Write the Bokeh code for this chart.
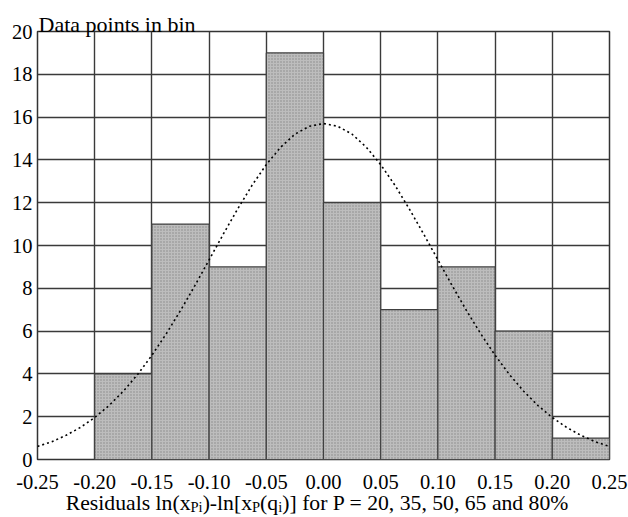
from bokeh.plotting import figure
from bokeh.models import FixedTicker, Label, LinearAxis
from bokeh.embed import file_html
from bokeh.resources import INLINE

# ---- data ----
bin_left = [-0.20, -0.15, -0.10, -0.05, 0.00, 0.05, 0.10, 0.15, 0.20]
bin_right = [-0.15, -0.10, -0.05, 0.00, 0.05, 0.10, 0.15, 0.20, 0.25]
counts = [4, 11, 9, 19, 12, 7, 9, 6, 1]

curve_x = [-0.25, -0.2375, -0.225, -0.2125, -0.2, -0.1875, -0.175, -0.1625,
           -0.15, -0.1375, -0.125, -0.1125, -0.1, -0.0875, -0.075, -0.0625,
           -0.05, -0.0375, -0.025, -0.0125, 0.0, 0.0125, 0.025, 0.0375,
           0.05, 0.0625, 0.075, 0.0875, 0.1, 0.1125, 0.125, 0.1375,
           0.15, 0.1625, 0.175, 0.1875, 0.2, 0.2125, 0.225, 0.2375, 0.25]
curve_y = [0.61, 0.83, 1.13, 1.50, 1.96, 2.52, 3.19, 3.97,
           4.87, 5.87, 6.96, 8.12, 9.33, 10.54, 11.71, 12.81,
           13.78, 14.59, 15.20, 15.57, 15.70, 15.57, 15.20, 14.59,
           13.78, 12.81, 11.71, 10.54, 9.33, 8.12, 6.96, 5.87,
           4.87, 3.97, 3.19, 2.52, 1.96, 1.50, 1.13, 0.83, 0.61]

x_ticks = [-0.25, -0.20, -0.15, -0.10, -0.05, 0.00, 0.05, 0.10, 0.15, 0.20, 0.25]
x_tick_labels = ["-0.25", "-0.20", "-0.15", "-0.10", "-0.05", "0.00",
                 "0.05", "0.10", "0.15", "0.20", "0.25"]
y_ticks = [0, 2, 4, 6, 8, 10, 12, 14, 16, 18, 20]

y_title = "Data points in  bin"
x_title_pieces = [("Residuals ln(x", False), ("Pi", True), (")-ln[x", False),
                  ("P", True), ("(q", False), ("i", True),
                  (")] for P = 20, 35, 50, 65 and 80%", False)]

FONT = "Liberation Serif"

# Times metrics (per 1000 em) used to lay the title pieces out
W = {'R': 667, 'e': 444, 's': 389, 'i': 278, 'd': 500, 'u': 500, 'a': 444,
     'l': 278, ' ': 250, 'n': 500, '(': 333, 'x': 500, ')': 333, '-': 333,
     '[': 333, ']': 333, 'q': 500, 'P': 556, 'f': 333, 'o': 500, 'r': 333,
     '=': 564, ',': 250, '%': 833}
for c in "0123456789":
    W[c] = 500


def text_width(s, size):
    return sum(W.get(c, 500) for c in s) * size / 1000.0


FIG_W, FIG_H = 628, 517
BL, BR, BT, BB = 37, 19, 31, 57
FRAME_W = FIG_W - BL - BR

p = figure(width=FIG_W, height=FIG_H, x_range=(-0.25, 0.25), y_range=(0, 20),
           output_backend="svg", toolbar_location=None,
           min_border_left=BL, min_border_right=BR,
           min_border_top=BT, min_border_bottom=BB)

p.background_fill_color = "white"
p.border_fill_color = "white"
p.outline_line_color = "#333333"
p.outline_line_width = 1.5

# grid
p.xgrid.ticker = FixedTicker(ticks=x_ticks)
p.ygrid.ticker = FixedTicker(ticks=y_ticks)
for g in (p.xgrid, p.ygrid):
    g.grid_line_color = "#3a3a3a"
    g.grid_line_width = 1.4
    g.grid_line_alpha = 1.0


def style_axis(a, size, standoff):
    a.axis_line_color = None
    a.major_tick_line_color = None
    a.minor_tick_line_color = None
    a.major_tick_out = 0
    a.major_tick_in = 0
    a.minor_tick_out = 0
    a.minor_tick_in = 0
    a.major_label_text_font = FONT
    a.major_label_text_font_size = f"{size}px"
    a.major_label_text_color = "black"
    a.major_label_standoff = standoff


# main axes
p.xaxis.ticker = FixedTicker(ticks=x_ticks)
p.xaxis.major_label_overrides = {t: l for t, l in zip(x_ticks, x_tick_labels)}
p.yaxis.ticker = FixedTicker(ticks=y_ticks)
style_axis(p.xaxis[0], 20.5, 15)
style_axis(p.yaxis[0], 20.5, 5)

# histogram bars
p.quad(left=bin_left, right=bin_right, top=counts, bottom=0,
       fill_color="#bdbdbd", line_color="#404040", line_width=1.2,
       hatch_pattern="dot", hatch_color="#8a8a8a", hatch_scale=3,
       hatch_weight=1)

# fitted curve (dotted)
p.line(curve_x, curve_y, line_color="black", line_width=1.6, line_dash="2 3")

# y title above the frame (side panel so it is not clipped)
p.add_layout(Label(x=-0.25, y=20, x_offset=1, y_offset=7, text=y_title,
                   text_font=FONT, text_font_size="22px", text_color="black",
                   text_align="left", text_baseline="alphabetic"), "above")

# x title: pieces carried by two label-only axes (subscripts and normal text)
main_size, sub_size = 21.7, 14.5
px = 0.5 / FRAME_W
total = sum(text_width(t, sub_size if s else main_size) for t, s in x_title_pieces)
cursor = -total / 2.0 - 6
main_pos, main_txt, sub_pos, sub_txt = [], [], [], []
for t, is_sub in x_title_pieces:
    size = sub_size if is_sub else main_size
    w = text_width(t, size)
    centre = round((cursor + w / 2.0) * px, 6)
    if is_sub:
        sub_pos.append(centre)
        sub_txt.append(t)
    else:
        main_pos.append(centre)
        main_txt.append(t)
    cursor += w


def label_axis(pos, txt, size, standoff):
    a = LinearAxis(ticker=FixedTicker(ticks=pos),
                   major_label_overrides={k: v for k, v in zip(pos, txt)})
    style_axis(a, size, standoff)
    return a


p.add_layout(label_axis(sub_pos, sub_txt, sub_size, 7), "below")
p.add_layout(label_axis(main_pos, main_txt, main_size, -27), "below")

open("out.html", "w").write(file_html(p, INLINE))
